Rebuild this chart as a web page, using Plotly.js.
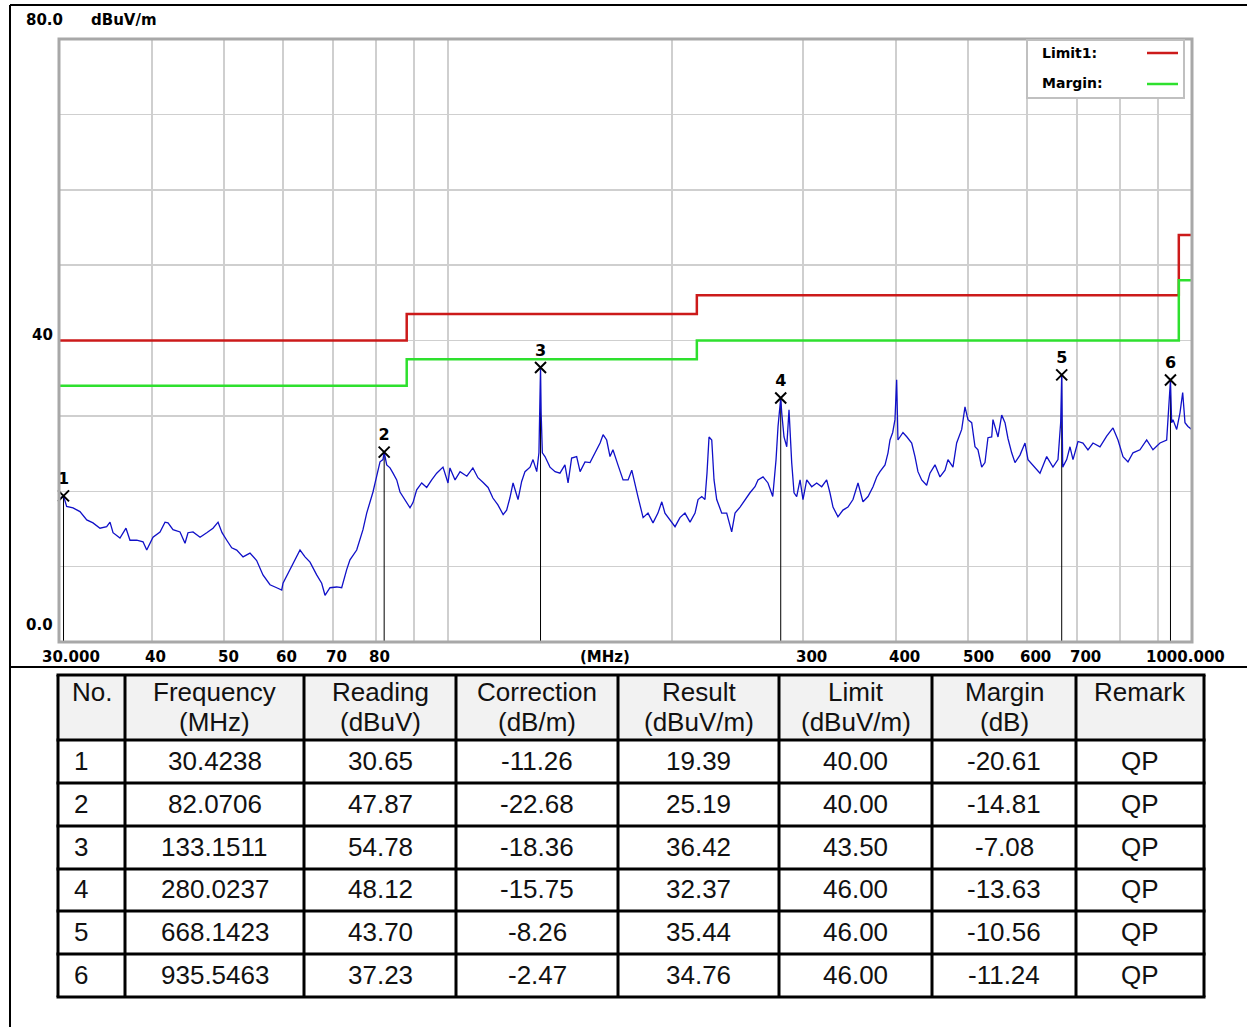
<!DOCTYPE html>
<html><head><meta charset="utf-8">
<script src="https://cdn.plot.ly/plotly-3.0.1.min.js"></script>
<style>html,body{margin:0;padding:0;background:#fff;} #chart{width:1247px;height:1027px;}</style>
</head><body><div id="chart"></div>
<script>
// ---- measured spectrum (MHz, dBuV/m) ----
const traceFreq = [30.00,30.16,30.42,30.72,31.33,32.01,32.69,33.33,34.06,34.77,35.13,35.46,36.23,36.91,37.37,38.16,38.91,39.36,40.13,41.01,41.65,42.04,42.69,43.63,44.31,44.72,45.42,46.42,47.39,48.32,49.08,49.69,50.42,51.20,52.00,53.03,54.18,55.31,56.40,57.64,58.85,59.77,60.01,61.32,62.60,63.25,64.24,65.24,66.60,67.64,68.34,69.40,70.86,71.96,73.08,73.83,75.38,76.86,77.75,78.55,79.28,80.19,81.02,81.77,82.07,82.72,83.57,84.35,85.32,86.19,87.54,88.90,89.73,90.76,92.18,93.62,95.08,96.56,98.46,100.0,100.6,102.2,103.8,106.0,108.0,109.7,111.4,113.2,114.9,116.7,118.6,119.9,121.1,122.3,124.2,125.6,126.9,128.9,130.1,131.6,132.5,133.15,133.4,133.9,135.0,137.1,139.3,141.4,143.6,145.0,146.6,148.9,150.5,152.8,155.2,157.6,160.1,161.6,163.4,165.1,166.6,169.2,171.9,174.6,176.6,180.0,182.9,185.7,188.6,191.5,193.8,195.7,198.8,201.9,205.0,208.2,211.5,214.8,216.8,219.3,221.5,222.9,224.3,226.2,227.8,229.7,233.3,236.9,240.6,243.1,246.9,250.7,254.6,258.6,261.0,265.1,269.2,273.2,276.0,277.7,280.02,280.9,282.9,285.3,287.3,289.7,291.8,294.2,297.3,300.0,303.5,308.2,313.0,317.9,322.8,326.1,329.2,334.3,339.5,344.8,350.2,355.7,361.2,366.9,372.6,376.9,380.7,386.7,390.3,392.7,396.0,398.8,400.9,402.5,408.8,413.9,420.0,424.3,428.2,433.2,439.9,444.4,451.4,458.4,465.6,469.9,477.2,482.7,490.3,495.3,499.9,505.7,510.9,515.6,521.6,526.9,531.8,538.0,540.1,548.6,554.9,560.6,565.8,572.3,578.2,587.2,596.4,601.9,611.3,624.7,637.8,650.3,660.5,666.0,668.14,670.2,678.5,685.5,691.9,702.7,713.6,724.7,736.1,752.2,767.9,783.1,795.3,807.7,820.3,833.1,851.3,869.1,886.2,905.7,924.6,935.55,939.0,942.8,953.7,963.5,971.6,978.5,987.6,999.0];
const traceLevel = [18.8,19.1,19.39,18.0,17.8,17.3,16.2,15.8,15.1,15.3,15.9,14.5,13.8,15.1,13.5,13.5,13.3,12.2,13.9,14.6,15.9,15.8,14.9,14.6,13.1,14.5,14.6,13.9,14.5,15.1,15.9,14.5,13.5,12.5,12.2,11.3,11.8,10.8,8.9,7.6,7.2,6.9,7.8,9.6,11.3,12.2,11.3,10.6,8.9,7.8,6.2,7.2,7.3,7.2,9.6,10.9,12.2,14.9,17.1,18.5,19.9,22.0,23.9,24.2,25.19,23.5,23.1,22.4,21.5,19.9,18.9,17.8,18.5,20.2,21.1,20.5,21.5,22.4,23.2,21.1,23.1,21.5,22.6,22.0,23.1,21.8,21.2,20.5,19.1,18.2,16.9,17.5,19.1,21.1,18.9,21.3,22.6,23.2,24.2,22.6,25.1,36.42,30.5,25.1,24.6,23.2,22.6,22.4,23.5,21.1,24.4,24.6,22.6,23.9,23.8,25.1,26.4,27.5,26.8,24.6,25.5,23.5,21.5,21.5,22.8,19.3,16.5,17.1,15.8,17.1,18.6,17.1,16.2,15.3,16.5,17.1,15.9,17.1,18.9,19.3,18.9,22.4,27.2,26.8,21.5,18.9,17.1,17.1,14.6,17.1,17.9,18.9,19.8,20.6,21.5,21.9,21.1,19.3,24.2,28.6,32.37,30.4,27.2,25.9,30.8,23.8,19.8,19.3,21.5,18.9,21.5,20.6,21.1,20.6,21.5,19.8,17.9,16.6,17.5,17.9,18.9,21.1,18.6,19.3,20.6,21.9,22.6,23.5,25.1,26.8,27.8,29.5,34.8,26.8,27.8,27.2,26.4,24.6,22.6,21.5,20.8,22.4,23.5,21.9,22.8,24.2,23.2,26.4,28.2,31.2,29.5,29.1,25.9,25.5,23.2,23.8,27.1,27.2,29.5,27.2,30.1,29.1,27.0,25.1,23.8,24.8,26.4,24.2,23.5,22.4,24.6,23.2,24.2,29.1,35.44,23.2,24.2,25.9,24.2,26.6,26.4,25.5,26.4,25.9,27.3,28.4,26.8,24.6,23.9,25.1,25.5,26.8,25.5,26.4,26.8,34.76,29.1,29.5,28.2,30.4,33.1,29.1,28.6,28.2];

// ---- limit / margin lines ----
const limitFreq = [30, 88, 216, 960, 1000];
const limitLevel = [40, 43.5, 46, 54, 54];
const marginLevel = [34, 37.5, 40, 48, 48];

// ---- marker table ----
const markerNo = [1, 2, 3, 4, 5, 6];
const markerFreq = [30.4238, 82.0706, 133.1511, 280.0237, 668.1423, 935.5463];
const markerReading = [30.65, 47.87, 54.78, 48.12, 43.70, 37.23];
const markerCorrection = [-11.26, -22.68, -18.36, -15.75, -8.26, -2.47];
const markerResult = [19.39, 25.19, 36.42, 32.37, 35.44, 34.76];
const markerLimit = [40.00, 40.00, 43.50, 46.00, 46.00, 46.00];
const markerMargin = [-20.61, -14.81, -7.08, -13.63, -10.56, -11.24];
const markerRemark = ['QP', 'QP', 'QP', 'QP', 'QP', 'QP'];
const headerTop = ['No.', 'Frequency', 'Reading', 'Correction', 'Result', 'Limit', 'Margin', 'Remark'];
const headerUnit = ['', '(MHz)', '(dBuV)', '(dB/m)', '(dBuV/m)', '(dBuV/m)', '(dB)', ''];

// ---- axis labels ----
const xGridVals = [30,40,50,60,70,80,90,100,200,300,400,500,600,700,800,900,1000];
const xLabelVals = [30,40,50,60,70,80,300,400,500,600,700,1000];
const xLabelText = ['30.000','40','50','60','70','80','300','400','500','600','700','1000.000'];
const xLabelShift = [12,4,4,4,4,4,9,9,10,9,9,-7];

const W = 1247, H = 1027;
const px = X => X / W, py = Y => 1 - Y / H;
const FONT = 'DejaVu Sans, Verdana, sans-serif';
const TFONT = 'Liberation Sans, Arial, sans-serif';

// vertical marker lines
const vx = [], vy = [];
markerFreq.forEach((f, i) => { vx.push(f, f, null); vy.push(0, markerResult[i], null); });

const traces = [
  {type:'scatter', mode:'lines', x:vx, y:vy, line:{color:'#000', width:1}, hoverinfo:'skip'},
  {type:'scatter', mode:'lines', x:traceFreq, y:traceLevel, line:{color:'#1010c8', width:1.3}},
  {type:'scatter', mode:'lines', x:limitFreq, y:limitLevel, line:{color:'#cc1a1a', width:2.5, shape:'hv'}},
  {type:'scatter', mode:'lines', x:limitFreq, y:marginLevel, line:{color:'#2ee02e', width:2.5, shape:'hv'}},
  {type:'scatter', mode:'markers+text', x:markerFreq, y:markerResult,
   text:markerNo.map(n => '<b>' + n + '</b>'), textposition:'top center',
   textfont:{family:FONT, size:16, color:'#000'},
   marker:{symbol:'x-thin', size:11, color:'#000', line:{color:'#000', width:2}}, cliponaxis:false}
];

const annotations = [];
const shapes = [];

xLabelVals.forEach((v, i) => annotations.push({xref:'x', yref:'paper', x:Math.log10(v), y:py(657),
  text:'<b>' + xLabelText[i] + '</b>', showarrow:false, xanchor:'center', yanchor:'middle', xshift:xLabelShift[i],
  font:{family:FONT, size:15, color:'#000'}}));
annotations.push({xref:'paper', yref:'paper', x:px(605), y:py(657), text:'<b>(MHz)</b>', showarrow:false,
  xanchor:'center', yanchor:'middle', font:{family:FONT, size:15, color:'#000'}});
annotations.push({xref:'paper', yref:'paper', x:px(24), y:py(20), text:'<b>80.0</b>', showarrow:false,
  xanchor:'left', yanchor:'middle', font:{family:FONT, size:15, color:'#000'}});
annotations.push({xref:'paper', yref:'paper', x:px(89), y:py(20), text:'<b>dBuV/m</b>', showarrow:false,
  xanchor:'left', yanchor:'middle', font:{family:FONT, size:15, color:'#000'}});
annotations.push({xref:'paper', yref:'y', x:px(55), y:40, yshift:6, text:'<b>40</b>', showarrow:false,
  xanchor:'right', yanchor:'middle', font:{family:FONT, size:15, color:'#000'}});
annotations.push({xref:'paper', yref:'y', x:px(55), y:0, yshift:17, text:'<b>0.0</b>', showarrow:false,
  xanchor:'right', yanchor:'middle', font:{family:FONT, size:15, color:'#000'}});
annotations.push({xref:'paper', yref:'paper', x:px(1040), y:py(53), text:'<b>Limit1:</b>', showarrow:false,
  xanchor:'left', yanchor:'middle', font:{family:FONT, size:14, color:'#000'}});
annotations.push({xref:'paper', yref:'paper', x:px(1040), y:py(83), text:'<b>Margin:</b>', showarrow:false,
  xanchor:'left', yanchor:'middle', font:{family:FONT, size:14, color:'#000'}});

shapes.push(
  {type:'rect', xref:'paper', yref:'paper', x0:px(59), x1:px(1192), y0:py(642), y1:py(39),
   line:{color:'#a8a8a8', width:3}, layer:'above'},
  {type:'rect', xref:'paper', yref:'paper', x0:px(1027), x1:px(1184), y0:py(98), y1:py(40),
   fillcolor:'#fff', line:{color:'#c0c0c0', width:2}, layer:'above'},
  {type:'line', xref:'paper', yref:'paper', x0:px(1147), x1:px(1178), y0:py(53), y1:py(53),
   line:{color:'#cc1a1a', width:2.5}, layer:'above'},
  {type:'line', xref:'paper', yref:'paper', x0:px(1147), x1:px(1178), y0:py(84), y1:py(84),
   line:{color:'#2ee02e', width:2.5}, layer:'above'},
  {type:'line', xref:'paper', yref:'paper', x0:px(10), x1:px(1247), y0:py(5), y1:py(5), line:{color:'#000', width:2}},
  {type:'line', xref:'paper', yref:'paper', x0:px(10), x1:px(10), y0:py(5), y1:py(1027), line:{color:'#000', width:2}},
  {type:'line', xref:'paper', yref:'paper', x0:px(10), x1:px(1247), y0:py(667), y1:py(667), line:{color:'#000', width:2}}
);

// ---- table (grid geometry in page pixels) ----
const colEdges = [58, 125, 304, 456, 618, 779, 932, 1076, 1204];
const rowEdges = [675, 740, 783, 826, 869, 911, 954, 997];
const colAlign = ['left','center','center','center','center','center','center','center'];
const cellText = [markerNo.map(String), markerFreq.map(v => v.toFixed(4)), markerReading.map(v => v.toFixed(2)),
  markerCorrection.map(v => v.toFixed(2)), markerResult.map(v => v.toFixed(2)), markerLimit.map(v => v.toFixed(2)),
  markerMargin.map(v => v.toFixed(2)), markerRemark];
shapes.push({type:'rect', xref:'paper', yref:'paper', x0:px(colEdges[0]), x1:px(colEdges[8]), y0:py(rowEdges[1]), y1:py(rowEdges[0]),
  fillcolor:'#f2f2f2', line:{width:0}, layer:'below'});
rowEdges.forEach(y => shapes.push({type:'line', xref:'paper', yref:'paper', x0:px(colEdges[0] - 1.5), x1:px(colEdges[8] + 1.5),
  y0:py(y), y1:py(y), line:{color:'#000', width:3}}));
colEdges.forEach(x => shapes.push({type:'line', xref:'paper', yref:'paper', x0:px(x), x1:px(x),
  y0:py(rowEdges[0]), y1:py(rowEdges[7]), line:{color:'#000', width:3}}));
const tf = {family:TFONT, size:26, color:'#111'};
for (let c = 0; c < 8; c++) {
  const left = colEdges[c], right = colEdges[c + 1];
  const isLeft = colAlign[c] === 'left';
  const ax = isLeft ? px(left + 12) : px((left + right) / 2);
  const anc = isLeft ? 'left' : 'center';
  annotations.push({xref:'paper', yref:'paper', x:ax, y:py(692), text:headerTop[c], showarrow:false,
    xanchor:anc, yanchor:'middle', font:tf});
  if (headerUnit[c]) annotations.push({xref:'paper', yref:'paper', x:ax, y:py(722), text:headerUnit[c], showarrow:false,
    xanchor:anc, yanchor:'middle', font:tf});
  for (let r = 0; r < 6; r++) {
    const yc = (rowEdges[r + 1] + rowEdges[r + 2]) / 2 - 1;
    annotations.push({xref:'paper', yref:'paper', x:isLeft ? px(left + 14) : ax, y:py(yc), text:cellText[c][r],
      showarrow:false, xanchor:anc, yanchor:'middle', font:tf});
  }
}

const layout = {
  width:W, height:H, autosize:false, showlegend:false,
  margin:{l:0, r:0, t:0, b:0}, paper_bgcolor:'#fff', plot_bgcolor:'#fff',
  xaxis:{type:'log', domain:[px(59), px(1192)], range:[Math.log10(30), Math.log10(1000)],
    tickvals:xGridVals, showticklabels:false, ticks:'', showgrid:true, gridcolor:'#cfcfcf', gridwidth:1.5,
    zeroline:false, showline:false, fixedrange:true},
  yaxis:{domain:[py(642), py(39)], range:[0, 80], dtick:10, showticklabels:false, ticks:'',
    showgrid:true, gridcolor:'#cfcfcf', gridwidth:1.5, zeroline:false, showline:false, fixedrange:true},
  annotations, shapes
};

Plotly.newPlot('chart', traces, layout, {displayModeBar:false, staticPlot:true});
</script></body></html>
